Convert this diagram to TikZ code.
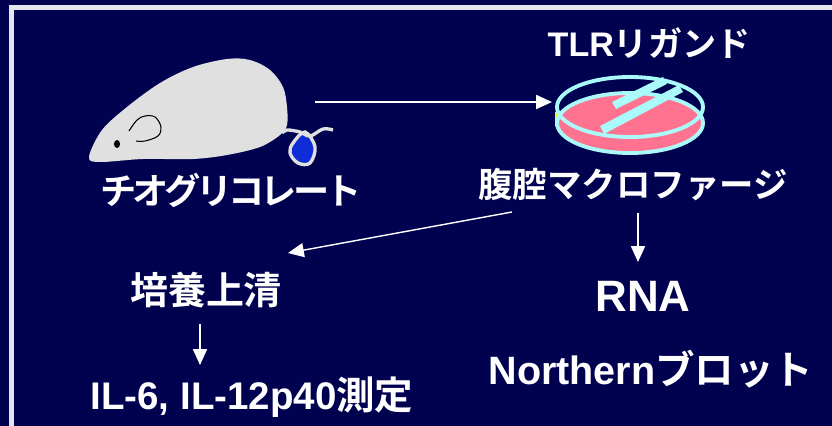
\documentclass[tikz,border=0pt]{standalone}
\usepackage{fontspec}
\setmainfont{Liberation Sans}
\newfontfamily\jpfont[BoldFont={Noto Sans CJK JP Bold}]{Noto Sans CJK JP Medium}
\newcommand{\jp}[1]{{\jpfont #1}}
\usetikzlibrary{arrows.meta}
\definecolor{slidebg}{RGB}{0,2,80}
\definecolor{mousegray}{RGB}{224,224,224}
\definecolor{dishcyan}{RGB}{170,250,250}
\definecolor{dishpink}{RGB}{255,115,145}
\definecolor{tailblue}{RGB}{15,45,215}
\tikzset{
  Label/.style={text=white, font=\bfseries\fontsize{#1}{#1}\selectfont, inner sep=0pt},
  Flow/.style={draw=white, line width=0.8pt, -{Triangle[length=9pt,width=8pt]}},
  Bar/.style={fill=dishcyan, draw=none},
  Rim/.style={draw=dishcyan, line width=2.2pt}
}
\begin{document}
\begin{tikzpicture}[x=0.02cm,y=-0.02cm]
\useasboundingbox (0,0) rectangle (832,426);
\fill[slidebg] (0,0) rectangle (832,426);
% slide frame
\draw[white!90!slidebg, line width=2.9pt] (11.5,426) -- (11.5,7.5) -- (832,7.5);
% mouse
\fill[mousegray] plot[smooth cycle, tension=0.55] coordinates {(89,157) (102,130) (127,107) (160,83) (193,67) (227,59) (250,60) (270,70) (283,87) (287,107) (287,125) (280,135) (260,147) (227,155) (193,159) (143,159) (100,162)};
\draw[black, line width=0.6pt] plot[smooth, tension=0.6] coordinates {(129,131) (137,120) (145,116) (155,117) (161,127) (158,136) (145,141) (136,141)};
\fill[black] (117,144) ellipse (3 and 4);
\draw[mousegray, line width=1.9pt, fill=tailblue] plot[smooth cycle, tension=0.6] coordinates {(305,132) (315,147) (310,163) (298,163) (290,153) (293,143)};
\draw[mousegray, line width=1.9pt] plot[smooth, tension=0.6] coordinates {(282,133) (287,130) (300,132) (310,136) (323,129) (333,130)};
% culture dish
\fill[yellow] (555,112) rectangle (560,126);
\draw[Rim, fill=dishpink] (630,123) ellipse (73 and 30);
\draw[Rim] (630,107) ellipse (73 and 30);
\fill[Bar] (612,102) -- (663,77) -- (667,84) -- (616,109) -- cycle;
\fill[Bar] (600,126) -- (679,85) -- (683,92) -- (604,134) -- cycle;
% labels
\node[Label=19.4] (ligand) at (649,43) {TLR\jp{リガンド}};
\node[Label=20.6] (thio) at (231,190) {\jpfont\addfontfeature{LetterSpace=-11}チオグリコレート};
\node[Label=19.6] (macro) at (633,184) {\jp{腹腔マクロファージ}};
\node[Label=21.6] (sup) at (206,290) {\jp{培養上清}};
\node[Label=25] (rna) at (643,296) {RNA};
\node[Label=22.5] (north) at (651,369) {Northern\jp{ブロット}};
\node[Label=21.9] (il) at (252,397) {IL-6, IL-12p40\jp{測定}};
% arrows
\coordinate (mouseEnd) at (315,102);
\coordinate (dishEnd) at (552,102);
\coordinate (macroW) at (512,212);
\coordinate (supNE) at (288,253);
\coordinate (macroS) at (638,213);
\coordinate (rnaN) at (638,262);
\coordinate (supS) at (200,324);
\coordinate (ilN) at (200,365);
\draw[Flow] (mouseEnd) -- (dishEnd);
\draw[Flow] (macroW) -- (supNE);
\draw[Flow] (macroS) -- (rnaN);
\draw[Flow] (supS) -- (ilN);
\end{tikzpicture}
\end{document}
